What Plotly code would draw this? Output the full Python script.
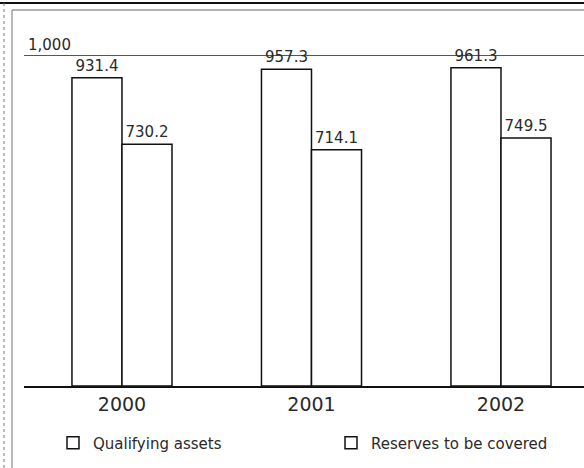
import plotly.graph_objects as go

# Values per year (EUR m)
years = ["2000", "2001", "2002"]
qualifying_assets = [931.4, 957.3, 961.3]
reserves_to_cover = [730.2, 714.1, 749.5]
series_names = ["Qualifying assets", "Reserves to be covered"]
grid_value = 1000
grid_label = "1,000"

W, H = 584, 468
FONT = "DejaVu Sans"
INK = "#2a2a2a"


def px_x(p):
    return p / W


def px_y(p):
    return 1 - p / H


fig = go.Figure()
for name, vals, lg in zip(series_names, [qualifying_assets, reserves_to_cover],
                          ["legend", "legend2"]):
    fig.add_trace(go.Bar(
        x=years, y=vals, name=name, legend=lg, showlegend=True,
        marker=dict(color="white", line=dict(color="#111111", width=1.5)),
        text=[f"{v:.1f}" for v in vals],
        textposition="outside",
        textfont=dict(family=FONT, size=15, color=INK),
        cliponaxis=False,
    ))

# scan-style frame around the panel
shapes = [
    dict(type="line", xref="paper", yref="paper", x0=0, x1=1,
         y0=px_y(3), y1=px_y(3), line=dict(color="#111111", width=2)),
    dict(type="line", xref="paper", yref="paper", x0=px_x(12), x1=1,
         y0=px_y(10), y1=px_y(10), line=dict(color="#666666", width=1)),
    dict(type="line", xref="paper", yref="paper", x0=px_x(4), x1=px_x(4),
         y0=0, y1=1, line=dict(color="#777777", width=1, dash="dot")),
    dict(type="line", xref="paper", yref="paper", x0=px_x(12), x1=px_x(12),
         y0=0, y1=px_y(10), line=dict(color="#777777", width=1)),
]

legend_style = dict(
    orientation="h", y=px_y(443), xanchor="left", yanchor="middle",
    font=dict(family=FONT, size=15, color=INK), bgcolor="rgba(0,0,0,0)",
)

fig.update_layout(
    width=W, height=H,
    margin=dict(l=0, r=0, t=0, b=0),
    paper_bgcolor="white", plot_bgcolor="white",
    showlegend=True,
    barmode="group", bargap=0.472, bargroupgap=0,
    font=dict(family=FONT, color=INK),
    shapes=shapes,
    xaxis=dict(
        domain=[px_x(24), 1], type="category",
        range=[-0.517, 2.438],
        showline=True, linecolor="#111111", linewidth=1.5,
        showgrid=False, ticks="",
        tickfont=dict(family=FONT, size=19, color=INK),
    ),
    yaxis=dict(
        domain=[px_y(386), 1],
        range=[0, 386 / 0.331],
        tickvals=[grid_value], showticklabels=False,
        showgrid=True, gridcolor="#555555", gridwidth=1,
        zeroline=False, showline=False, ticks="",
    ),
    legend=dict(x=px_x(53), **legend_style),
    legend2=dict(x=px_x(331), **legend_style),
    annotations=[dict(
        x=px_x(26), xref="paper", y=grid_value, yref="y",
        text=grid_label, showarrow=False,
        xanchor="left", yanchor="bottom", yshift=-1,
        font=dict(family=FONT, size=15, color=INK),
    )],
)

fig.write_html("out.html")
